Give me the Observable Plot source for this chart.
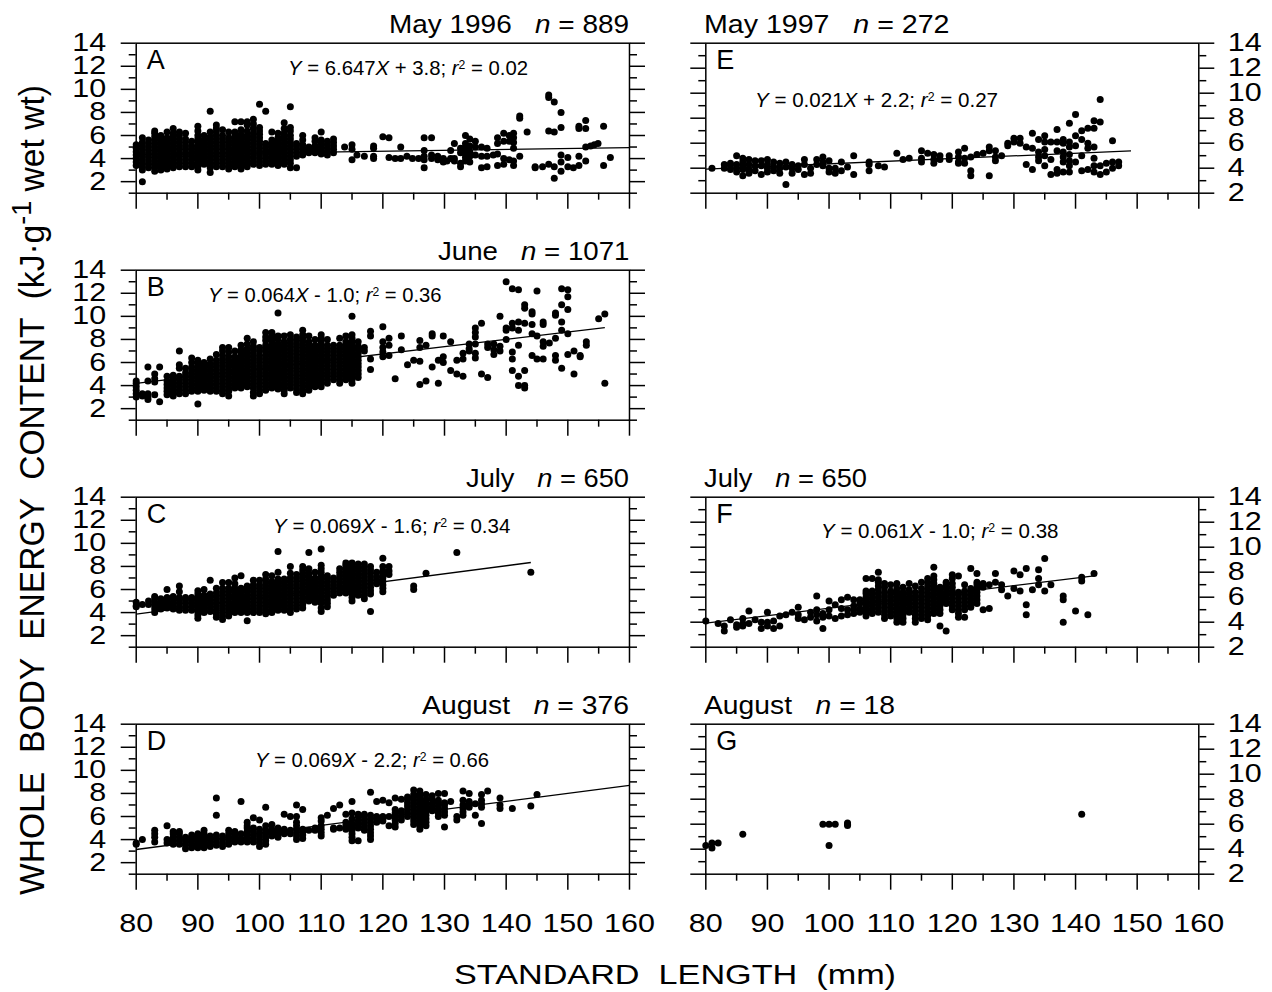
<!DOCTYPE html>
<html><head><meta charset="utf-8">
<script src="https://cdn.jsdelivr.net/npm/d3@7"></script>
<script src="https://cdn.jsdelivr.net/npm/@observablehq/plot@0.6"></script>
<style>
body{margin:0;background:#fff;}
#fig{position:relative;width:1272px;height:992px;overflow:hidden;font-family:"Liberation Sans",Arial,sans-serif;color:#000;background:#fff;}
.ov{position:absolute;white-space:pre;line-height:1;color:#000;}
.panel{position:absolute;}
</style></head><body><div id="fig"></div><script>
// ---------------- DATA ----------------
const panelLetters = ["A","B","C","D","E","F","G"];
const panelMonths = ["May 1996","June","July","August","May 1997","July","August"];
const panelN = [889,1071,650,376,272,650,18];
const eqSlope = ["6.647","0.064","0.069","0.069","0.021","0.061",null];
const eqIntercept = ["+ 3.8","- 1.0","- 1.6","- 2.2","+ 2.2","- 1.0",null];
const eqR2 = ["0.02","0.36","0.34","0.66","0.27","0.38",null];

const majorX = [80,90,100,110,120,130,140,150,160];
const minorX = [85,95,105,115,125,135,145,155];
const majorY = [2,4,6,8,10,12,14];
const minorYLeft = [1,3,5,7,9,11,13];
const minorYRight = [3,5,7,9,11,13];

// regression lines [[x1,y1],[x2,y2]]
const lineA = [[80,4.33],[160,4.95]];
const lineB = [[80,4.2],[156,9.03]];
const lineC = [[80,3.87],[144,8.34]];
const lineD = [[80,3.14],[160,8.7]];
const lineE = [[80,3.92],[149,5.39]];
const lineF = [[80,3.92],[143,7.71]];

// points: [standard length, [energy values]]
const panelA = [
[80,[3.4,3.7,4.0,4.3,4.6,4.9,5.2]],
[81,[2.0,3.0,3.3,3.6,3.9,4.2,4.5,4.8,5.1,5.4,5.8]],
[82,[3.2,3.5,3.8,4.1,4.4,4.7,5.0,5.3,5.6]],
[83,[2.9,3.2,3.5,3.8,4.1,4.4,4.7,5.0,5.3,5.6,5.9,6.2,6.4]],
[84,[3.0,3.3,3.6,3.9,4.2,4.5,4.8,5.1,5.4,5.7,6.0]],
[85,[3.1,3.4,3.7,4.0,4.3,4.6,4.9,5.2,5.5,5.8,6.3]],
[86,[3.2,3.5,3.8,4.1,4.4,4.7,5.0,5.3,5.6,5.9,6.2,6.6]],
[87,[3.3,3.6,3.9,4.2,4.5,4.8,5.1,5.4,5.7,6.0,6.3]],
[88,[3.3,3.6,3.9,4.2,4.5,4.8,5.1,5.4,5.7,6.2]],
[89,[3.3,3.6,3.9,4.2,4.5,4.8,5.1,5.5]],
[90,[3.0,3.3,3.6,3.9,4.2,4.5,4.8,5.1,5.4,5.7,6.0,6.4,6.8]],
[91,[3.5,3.8,4.1,4.4,4.7,5.0,5.3,5.6,6.0]],
[92,[2.8,3.2,3.5,3.8,4.1,4.4,4.7,5.0,5.3,5.6,5.9,6.3,8.1]],
[93,[3.3,3.6,3.9,4.2,4.5,4.8,5.1,5.4,5.7,6.0,6.3,6.6,6.9]],
[94,[3.3,3.6,3.9,4.2,4.5,4.8,5.1,5.4,5.7,6.0,6.5]],
[95,[3.1,3.4,3.7,4.0,4.3,4.6,4.9,5.2,5.5,5.8,6.3]],
[96,[3.3,3.6,3.9,4.2,4.5,4.8,5.1,5.4,5.7,6.0,6.3,7.2]],
[97,[3.1,3.4,3.7,4.0,4.3,4.6,4.9,5.2,5.5,5.8,6.1,6.5,7.2]],
[98,[3.3,3.6,3.9,4.2,4.5,4.8,5.1,5.4,5.7,6.0,6.4,6.9,7.2]],
[99,[3.5,3.8,4.1,4.4,4.7,5.0,5.3,5.6,5.9,6.2,6.6,7.0,7.4]],
[100,[3.4,3.7,4.0,4.3,4.6,4.9,5.2,5.5,5.8,6.1,6.4,6.7,8.7]],
[101,[3.5,3.8,4.1,4.4,4.7,5.0,5.3,8.1]],
[102,[3.5,3.8,4.1,4.4,4.7,5.0,5.3,5.6,6.3]],
[103,[3.4,3.7,4.0,4.3,4.6,4.9,5.2,5.5,5.8,6.2]],
[104,[3.5,3.8,4.1,4.4,4.7,5.0,5.3,5.6,5.9,6.2,6.6,7.1]],
[105,[3.2,3.6,3.9,4.2,4.5,4.8,5.1,5.4,5.7,6.0,6.4,6.7,8.5]],
[106,[3.2,4.2,4.5,4.8,5.1,5.3]],
[107,[4.3,4.6,4.9,5.2,5.6,6.0]],
[108,[4.5,4.8,5.0]],
[109,[4.5,4.8,5.1,5.5,5.8]],
[110,[4.4,4.7,5.0,5.3,5.6,6.3]],
[111,[4.3,4.6,4.9,5.2,5.5]],
[112,[4.5,4.8,5.1,5.4,5.7]],
[113.8,[5.0]],
[115,[3.9,4.8,5.2]],
[115.8,[4.3]],
[117,[4.2]],
[118.5,[4.0,4.2,4.9,5.1]],
[120,[5.9]],
[121,[4.1,5.8]],
[122,[4.0]],
[122.9,[4.0,5.0]],
[123.9,[4.2]],
[124.8,[4.0]],
[125.8,[4.0]],
[126.7,[3.2,3.9,4.2,4.7,5.8]],
[127.9,[4.0,4.3,5.8]],
[128.9,[3.9,4.2]],
[129.8,[3.7,4.0]],
[130.4,[3.8]],
[131,[4.0,4.7]],
[131.6,[3.8,4.0,5.3]],
[132.6,[3.3,3.6,4.5,4.9]],
[133.4,[3.8,4.1,4.4,4.7,5.0,5.3,6.0]],
[134.1,[3.7,4.2,4.6,5.1,5.7]],
[135,[4.3,5.0,5.5]],
[136,[3.2,4.2,5.0]],
[136.9,[3.3,4.2,4.9]],
[137.9,[4.3]],
[138.6,[3.4,4.4,5.3,5.8]],
[139.6,[3.5,4.0,5.5,6.2]],
[140.5,[3.9,5.5,6.0]],
[141.2,[3.4,3.8,4.9,5.4,5.8,6.2]],
[142.2,[4.2,7.5,7.7]],
[143.4,[6.3]],
[144.7,[3.2,3.3]],
[145.9,[3.3]],
[146.9,[3.5,6.4,9.3,9.5]],
[147.8,[2.3,3.3,6.3,8.9]],
[148.9,[2.9,3.7,4.3,6.7,8.0]],
[150,[3.3,4.1]],
[150.9,[3.2]],
[151.8,[3.4,4.2,6.6,6.8]],
[152.9,[3.8,5.0,6.6,7.3]],
[153.7,[5.1]],
[154.3,[5.2]],
[154.9,[5.3]],
[155.8,[3.4,6.8]],
[156.9,[4.1]]
];

const panelB = [
[80,[3.0,3.3,3.6,3.9,4.2,4.4]],
[81,[3.1,3.3]],
[81.9,[2.8,3.0,3.3,4.4,5.6]],
[83,[3.2,4.3,4.6,5.0]],
[83.8,[2.6,5.6]],
[85,[3.2,3.5,3.8,4.1,4.4,4.8]],
[86,[3.1,3.4,3.7,4.0,4.3,4.6,4.9]],
[87,[3.3,3.6,3.9,4.2,4.5,4.8,5.5,5.8,7.0]],
[88,[3.3,3.6,3.9,4.2,4.5,4.8,5.1,5.5]],
[89,[3.5,3.8,4.1,4.4,4.7,5.0,5.3,5.6,6.0,6.4]],
[90,[2.4,3.5,3.8,4.1,4.4,4.7,5.0,5.3,5.6,5.9,6.2]],
[91,[3.6,3.9,4.2,4.5,4.8,5.1,5.4,5.7,6.0]],
[92,[3.5,3.8,4.1,4.4,4.7,5.0,5.3,5.6,5.9,6.3]],
[93,[3.5,3.8,4.1,4.4,4.7,5.0,5.3,5.6,5.9,6.2,6.7]],
[94,[3.3,3.6,3.9,4.2,4.5,4.8,5.1,5.4,5.7,6.0,6.3,6.6,7.0,7.3]],
[95,[3.1,3.5,3.8,4.1,4.4,4.7,5.0,5.3,5.6,5.9,6.2,6.5,6.9,7.3]],
[96,[3.8,4.1,4.4,4.7,5.0,5.3,5.6,5.9,6.2,6.5,7.0]],
[97,[3.8,4.1,4.4,4.7,5.0,5.3,5.6,5.9,6.2,6.5,6.8,7.1,7.5]],
[98,[3.9,4.2,4.5,4.8,5.1,5.4,5.7,6.0,6.3,6.6,6.9,7.2,7.6,8.1]],
[99,[3.1,3.4,3.8,4.1,4.4,4.7,5.0,5.3,5.6,5.9,6.2,6.5,6.8,7.1,7.4,7.8]],
[100,[3.3,3.6,3.9,4.2,4.5,4.8,5.1,5.4,5.7,6.0,6.3,6.6,7.0,7.3]],
[101,[3.6,3.9,4.2,4.5,4.8,5.1,5.4,5.7,6.0,6.3,6.6,6.9,7.2,7.5,7.9,8.2,8.6]],
[102,[3.8,4.1,4.4,4.7,5.0,5.3,5.6,5.9,6.2,6.5,6.8,7.1,7.4,7.7,8.0,8.3,8.6]],
[103,[3.7,4.0,4.3,4.6,4.9,5.2,5.5,5.8,6.1,6.4,6.7,7.0,7.3,7.6,8.0,8.3,10.3]],
[104,[3.3,3.6,3.9,4.2,4.5,4.8,5.1,5.4,5.7,6.0,6.3,6.6,6.9,7.2,7.5,7.8,8.3]],
[105,[3.8,4.1,4.4,4.7,5.0,5.3,5.6,5.9,6.2,6.5,6.8,7.1,7.4,7.7,8.0,8.4]],
[106,[3.4,3.7,4.0,4.3,4.6,4.9,5.2,5.5,5.8,6.1,6.4,6.7,7.0,7.3,7.6,7.9,8.2]],
[107,[3.3,3.6,3.9,4.2,4.5,4.8,5.1,5.4,5.7,6.0,6.3,6.6,6.9,7.2,7.5,7.8,8.1,8.4,8.8]],
[108,[3.6,3.9,4.2,4.5,4.8,5.1,5.4,5.7,6.0,6.3,6.6,6.9,7.2,7.5,7.8,8.3]],
[109,[3.9,4.2,4.5,4.8,5.1,5.4,5.7,6.0,6.3,6.6,6.9,7.2,7.5,8.0]],
[110,[3.9,4.2,4.5,4.8,5.1,5.4,5.7,6.0,6.3,6.6,6.9,7.2,7.5,7.8,8.1,8.4]],
[111,[4.2,4.5,4.8,5.1,5.4,5.7,6.0,6.3,6.6,6.9,7.2,7.5,8.0]],
[112,[4.5,4.8,5.1,5.4,5.7,6.0,6.3,6.6,6.9,7.2,7.5]],
[113,[4.2,4.5,4.8,5.1,5.4,5.7,6.0,6.3,6.6,6.9,7.2,7.5,8.1]],
[114,[4.5,4.8,5.1,5.4,5.7,6.0,6.3,6.6,6.9,7.2,7.5,7.8,8.3]],
[115,[4.2,4.5,4.8,5.1,5.4,5.7,6.0,6.3,6.6,6.9,7.2,7.5,7.8,8.1,8.4,10.0]],
[116,[4.7,5.0,5.3,5.6,5.9,6.2,6.5,6.8,7.1,7.4,7.8]],
[117,[7.0,7.3]],
[118,[5.4,6.3,8.3,8.7]],
[120,[6.5,6.9,7.3,7.8,9.1]],
[121,[6.6,7.5,8.1]],
[122,[4.6]],
[123,[7.1,8.3]],
[124,[5.8]],
[125,[6.2]],
[126,[4.1,6.1,7.3,7.9]],
[127,[4.4,7.5]],
[128,[5.6,8.3,8.5]],
[129,[4.2,6.2]],
[129.8,[6.0,6.5,8.3]],
[131,[5.3,7.8]],
[132,[5.0,6.2]],
[133,[4.8,6.3,6.8]],
[134,[7.0,7.2,7.6]],
[135,[6.4,6.8,7.6,8.2,8.6,9.0]],
[136,[5.0,9.4]],
[137,[4.7,7.3,7.6]],
[138,[6.7,7.1,7.6]],
[139,[7.0,7.4,10.0]],
[140,[8.0,8.8,9.0,13.0]],
[141,[5.3,6.3,6.9,9.0,9.4,12.4]],
[142,[4.0,4.8,7.5,8.8,9.5,12.3]],
[143,[3.8,4.0,5.3,9.4,10.7,11.0]],
[144.2,[6.6,8.5,9.3,10.2,10.4]],
[145,[6.3,8.3,12.2]],
[146,[6.3,7.4,7.8,9.3,9.5]],
[147,[7.7]],
[148,[6.2,6.6,8.1,10.1,10.3]],
[149,[5.5,8.8,9.5,11.0,12.4]],
[150,[6.7,8.5,10.6,11.7,12.3]],
[151,[5.0,7.0]],
[152,[6.5,6.6]],
[153,[7.5,7.8]],
[155,[9.8]],
[156,[4.2,10.2]]
];

const panelC = [
[80,[4.5,4.6,4.9]],
[81,[4.7]],
[82,[4.7,5.0]],
[83,[4.0,4.3,4.6,4.9,5.2,5.4]],
[84,[4.3,4.6,4.9,5.2]],
[85,[4.4,4.7,5.0,5.3,6.0]],
[86,[4.3,4.6,4.9,5.2,5.4]],
[87,[4.2,4.5,4.8,5.1,5.3,5.8,6.3]],
[88,[4.2,4.5,4.8,5.1,5.3]],
[89,[4.2,4.5,4.8,5.1,5.3]],
[90,[3.5,3.8,4.1,4.4,4.7,5.0,5.3,5.6,5.9]],
[91,[4.0,4.3,4.6,4.9,5.2,5.5,6.0]],
[92,[4.1,4.4,4.7,5.0,5.3,5.6,6.8]],
[93,[3.6,3.9,4.2,4.5,4.8,5.1,5.4,5.7,6.1]],
[94,[3.4,3.7,4.0,4.3,4.6,4.9,5.2,5.5,5.8,6.1,6.6]],
[95,[3.7,4.0,4.3,4.6,4.9,5.2,5.5,5.8,6.1,6.6]],
[96,[4.0,4.3,4.6,4.9,5.2,5.5,5.8,6.1,6.5,7.0]],
[97,[4.0,4.3,4.6,4.9,5.2,5.5,5.8,6.1,7.2]],
[98,[3.3,4.0,4.3,4.6,4.9,5.2,5.5,5.8,6.0,6.3]],
[99,[4.0,4.3,4.6,4.9,5.2,5.5,5.8,6.1,6.4,6.8]],
[100,[4.0,4.3,4.6,4.9,5.2,5.5,5.8,6.1,6.4,6.8]],
[101,[3.9,4.2,4.5,4.8,5.1,5.4,5.7,6.0,6.3,6.6,6.9,7.3]],
[102,[4.0,4.3,4.6,4.9,5.2,5.5,5.8,6.1,6.4,6.7,7.2]],
[103,[4.2,4.5,4.8,5.1,5.4,5.7,6.0,6.3,6.6,6.9,7.5,9.3]],
[104,[4.2,4.5,4.8,5.1,5.4,5.7,6.0,6.3,6.6,6.9]],
[105,[4.0,4.3,4.6,4.9,5.2,5.5,5.8,6.1,6.4,6.7,7.0,7.4,8.0]],
[106,[4.3,4.6,4.9,5.2,5.5,5.8,6.1,6.4,6.7,7.0,7.3]],
[107,[4.4,4.7,5.0,5.3,5.6,5.9,6.2,6.5,6.8,7.1,7.4,7.7,8.0]],
[108,[5.0,5.3,5.6,5.9,6.2,6.5,6.8,7.1,7.4,7.8,9.2]],
[109,[4.9,5.2,5.5,5.8,6.1,6.4,6.7,7.0,7.5]],
[110,[4.1,4.4,4.8,5.1,5.4,5.7,6.0,6.3,6.6,6.9,7.2,7.5,7.8,8.1,9.5]],
[111,[4.5,4.8,5.1,5.4,5.7,6.0,6.3,6.6,6.9,7.2]],
[112,[5.5,5.8,6.1,6.4,6.7,7.0]],
[113,[5.7,6.0,6.3,6.6,6.9,7.2,7.5,7.8]],
[114,[5.7,6.0,6.3,6.6,6.9,7.2,7.5,7.8,8.1,8.3]],
[115,[5.0,5.3,5.6,5.9,6.2,6.5,6.8,7.1,7.4,7.7,8.0,8.3]],
[116,[5.5,5.8,6.1,6.4,6.7,7.0,7.3,7.6,7.9,8.2]],
[117,[5.2,5.5,5.8,6.1,6.4,6.7,7.0,7.3,7.6,7.9,8.2]],
[118,[4.1,5.6,5.9,6.2,6.5,6.8,7.1,7.4,7.7,8.0]],
[119,[6.5,6.8,7.1,7.5]],
[120,[5.8,6.1,6.4,6.7,7.0,7.3,7.6,8.0,8.7]],
[121,[7.3,7.6,8.0]],
[125,[6.0,6.3]],
[127,[7.4]],
[132,[9.2]],
[144,[7.5]]
];

const panelD = [
[80,[3.6,3.7]],
[81,[4.0]],
[83,[3.8,4.2,4.5,4.8]],
[85,[3.7,4.0,5.2]],
[86,[3.6,3.9,4.2,4.5,4.7]],
[87,[3.6,3.9,4.2,4.5,4.7]],
[88,[3.2,3.5,3.8,4.0,4.2]],
[89,[3.3,3.6,3.9,4.2,4.4]],
[90,[3.3,3.6,3.9,4.2,4.5]],
[91,[3.3,3.6,3.9,4.2,4.5,4.8]],
[92,[3.4,3.7,4.0,4.3]],
[93,[3.5,3.8,4.1,4.4,6.1,7.6]],
[94,[3.4,3.7,4.0,4.3]],
[95,[3.6,3.9,4.2,4.5,4.8]],
[96,[3.8,4.1,4.4,4.7]],
[97,[3.8,4.1,4.5,7.3]],
[98,[3.8,4.1,4.4,4.7,5.0,5.2,5.5]],
[99,[3.8,4.1,4.4,4.7,5.0,5.9]],
[100,[3.4,3.7,4.0,4.3,4.6,4.9,5.7]],
[101,[3.6,3.9,4.2,4.5,4.8,5.2,6.8]],
[102,[4.3,4.6,4.9,5.3]],
[103,[4.2,4.5,4.8,5.0]],
[104,[4.5,4.7,4.9,6.2]],
[105,[4.5,4.8,6.0]],
[106,[4.0,4.3,4.6,4.9,5.2,5.5,6.0,7.0]],
[107,[4.1,4.4,4.7,4.9,6.6]],
[108,[4.8]],
[109,[4.8,5.0]],
[110,[4.3,4.6,4.9,5.2,5.6,5.9]],
[111,[6.1]],
[112,[4.9,5.0,6.7]],
[113,[5.0,7.0]],
[114,[4.9,5.2,5.5,6.2]],
[115,[3.9,4.2,4.5,4.8,5.1,5.4,5.8,6.3,7.3]],
[116,[3.9,5.0,5.3,5.6,6.0,6.2]],
[117,[4.8,5.1,5.4,5.7,6.0,6.2]],
[118,[4.0,4.3,4.6,4.9,5.2,5.5,5.8,6.1,8.1]],
[119,[5.5,5.8,6.0,7.3]],
[120,[5.6,5.8,6.0,7.4]],
[121,[5.2,6.0,7.2]],
[122,[5.1,5.4,5.7,6.0,6.3,6.6,7.6]],
[123,[5.7,6.0,6.3,6.5,7.5]],
[124,[6.0,6.3,6.6,6.9,7.2,7.5,7.7]],
[125,[5.3,5.6,5.9,6.2,6.5,6.8,7.1,7.4,7.7,7.9,8.3]],
[126,[4.9,5.2,5.5,5.8,6.1,6.4,6.7,7.0,7.3,7.6,7.9,8.2]],
[127,[5.2,5.5,5.8,6.1,6.4,6.7,7.0,7.3,7.5,7.9]],
[128,[6.5,6.8,7.1,7.5,7.8]],
[129,[6.0,6.3,6.6,6.9,7.2,7.4,8.0]],
[130,[5.1,6.1,6.4,6.7,7.0,7.2,8.0]],
[131,[7.3]],
[132,[5.7,6.0]],
[133,[6.1,6.4,6.7,7.0,7.4,8.2]],
[134,[6.8,7.1,7.3,8.0]],
[135,[6.1,7.1]],
[136,[5.4,6.8,7.1,7.4,7.9]],
[137,[8.2]],
[139,[6.7,7.0,7.6]],
[141,[6.7]],
[144,[6.9]],
[145,[7.9]]
];

const panelE = [
[81,[4.0]],
[83,[4.0,4.3]],
[84,[3.9,4.2,4.4]],
[85,[3.7,4.0,4.3,5.0]],
[86,[3.4,3.9,4.2,4.5,4.8]],
[87,[3.6,3.9,4.3,4.7]],
[88,[3.8,4.2,4.6]],
[89,[3.5,4.2,4.6]],
[90,[3.7,4.0,4.3,4.7]],
[91,[3.8,4.1,4.5]],
[92,[3.6,4.0,4.4]],
[93,[2.7,4.1,4.5]],
[94,[3.6,4.0,4.3]],
[95,[3.9,4.2]],
[96,[3.5,4.3,4.7]],
[97,[3.6,4.0]],
[98,[4.3,4.7]],
[99,[4.2,4.5,4.9]],
[100,[3.7,4.0,4.6]],
[101,[3.6,4.0]],
[102,[3.8,4.5]],
[103,[4.1]],
[104,[3.5,5.0]],
[106.5,[3.8,4.3,4.5]],
[108,[4.2]],
[109,[4.1]],
[111,[5.2]],
[112,[4.7]],
[113,[4.8]],
[115,[4.5,4.8,5.4]],
[116,[5.2]],
[117,[4.4,4.7,5.1]],
[118,[4.7,5.0]],
[119.5,[4.7,5.0]],
[121,[4.4,4.5,4.9,5.3]],
[122,[4.4,4.8,5.6]],
[123,[3.4,3.8,4.9]],
[124,[5.1]],
[125,[5.2]],
[126,[3.4,5.4,5.7]],
[127,[4.6,4.9,5.4]],
[128,[5.0]],
[129,[5.8,6.0]],
[130,[6.1,6.4]],
[131,[6.0,6.4]],
[132,[4.3,5.7]],
[133,[3.9,5.6,6.8]],
[134,[4.6,4.9,5.3,6.3]],
[135,[4.2,5.0,5.5,6.1,6.6]],
[136,[3.5,4.7,6.1]],
[137,[3.6,3.9,5.4,6.1,7.1]],
[138,[3.7,4.5,4.9,5.3,6.0,6.3]],
[139,[3.7,4.2,4.6,5.1,5.7,6.1,7.6]],
[140,[4.5,5.8,6.6,8.3]],
[141,[3.8,5.0,6.3,7.0]],
[142,[3.9,5.6,6.0,7.2]],
[143,[3.7,4.2,4.8,5.7,7.2,7.8]],
[144,[3.5,4.2,7.7,9.5]],
[145,[3.7,4.4]],
[146,[4.0,4.5,6.2]],
[147,[4.2,4.5]]
];

const panelF = [
[80,[4.1]],[82,[3.9]],[83,[3.3,3.7]],[84,[4.2]],[85,[3.6,3.8]],
[86,[3.7,3.9,4.3]],[87,[3.9,4.9]],[88,[4.2]],[89,[3.5,4.0]],
[90,[3.7,4.0,4.8]],[91,[3.5,4.1]],[92,[3.7,4.5]],[93,[4.6]],[94,[4.8]],
[95,[4.3,4.6,5.2]],[96,[4.2]],[97,[4.4,4.8]],[98,[4.1,4.6,5.0,6.1]],
[99,[3.5,4.4,4.7]],[100,[4.5,5.0,5.7]],[101,[4.3,5.4]],[102,[4.5,5.1,5.8]],
[103,[4.6,5.0,6.0]],
[104,[4.7,5.0,5.3,5.8]],
[105,[4.8,5.1,5.5,5.8]],
[106,[4.5,4.8,5.1,5.4,5.7,6.0,6.3,6.5,7.5]],
[107,[4.7,5.0,5.3,5.6,5.9,6.2,6.5,7.5]],
[108,[4.8,5.1,5.4,5.7,6.0,6.3,6.6,6.9,7.2,7.4,8.0]],
[109,[4.3,4.6,4.9,5.2,5.5,5.8,6.1,6.4,6.8,7.1]],
[110,[4.5,4.8,5.1,5.4,5.7,6.0,6.3,6.5,7.0]],
[111,[4.0,4.3,4.6,4.9,5.2,5.5,5.8,6.1,6.4,6.7,7.1]],
[112,[4.0,4.3,4.6,4.9,5.2,5.5,5.8,6.1,6.4,6.8]],
[113,[4.8,5.1,5.4,5.7,6.0,6.3,6.6,7.1]],
[114,[4.0,4.3,4.6,4.9,5.2,5.5,5.8,6.1,6.4,6.9]],
[115,[4.3,4.6,4.9,5.2,5.5,5.8,6.1,6.4,6.7,7.2]],
[116,[4.2,4.5,4.8,5.1,5.4,5.7,6.0,6.3,6.6,6.9,7.2,7.5]],
[117,[4.7,5.0,5.3,5.6,5.9,6.2,6.5,6.8,7.1,7.4,7.7,8.4]],
[118,[3.7,4.7,5.0,5.3,5.6,5.9,6.2,6.5,6.8]],
[119,[3.3,5.5,5.8,6.1,6.4,6.7,7.0,7.2]],
[120,[5.0,5.3,5.6,5.9,6.2,6.5,6.8,7.1,7.5,7.8]],
[121,[4.4,4.7,5.0,5.3,5.6,5.9,6.2,6.4,7.7]],
[122,[4.4,5.0,5.3,5.6,5.9,6.2,6.5,7.0]],
[123,[5.2,5.5,5.8,6.1,6.4,6.7,8.3]],
[124,[5.5,5.8,6.1,6.4,6.7,7.0,7.2,7.9]],
[125,[5.0,6.8,7.1]],
[126,[5.1,7.0]],
[127,[7.2,7.9]],
[128,[6.6,7.0]],
[129,[6.1]],
[130,[6.7,8.1]],
[131,[6.5,7.8]],
[132,[4.6,5.4,8.3]],
[133,[6.6]],
[134,[7.0,7.5,8.2]],
[135,[6.5,9.1]],
[136,[7.0]],
[138,[4.0,5.8,6.1]],
[140,[4.9]],
[141,[7.3,7.6]],
[142,[4.6]],
[143,[7.9]]
];

const panelG = [
[80,[4.3]],[81,[4.1,4.5]],[82,[4.5]],[86,[5.2]],
[99,[6.0]],[100,[4.3,6.0]],[101,[6.0]],[103,[5.9,6.0,6.1]],[141,[6.8]]
];

// ---------------- LAYOUT ----------------
const FONT = '"Liberation Sans", Arial, sans-serif';
const LEFT_FRAME = [135.7, 629];
const RIGHT_FRAME = [705.3, 1198.3];
const ROW_TOP = [42.7, 269.6, 496.5, 723.3];
const FRAME_H = 150;
const TICK_STRETCH = 1.22;
const panelPos = [[0,0],[0,1],[0,2],[0,3],[1,0],[1,2],[1,3]]; // [col,row]
const panelData = [panelA,panelB,panelC,panelD,panelE,panelF,panelG];
const panelLines = [lineA,lineB,lineC,lineD,lineE,lineF,null];
const titleWidth = [240,191.5,163,207,245.5,163,191];
const eqLeft = [288,207.5,272.6,255,754.7,821];
const eqWidth = [240,233.5,237.4,234,243,237.5];
const eqBase = [75,301.7,533.3,766.7,106.7,538.3];

const fig = document.getElementById("fig");

// horizontal stretch of tick labels about each label's own anchor
function stretchText(svg, s) {
  svg.querySelectorAll("text").forEach(t => {
    const tr = t.getAttribute("transform") || "";
    const xa = t.getAttribute("x");
    const x = (xa && !/em/.test(xa) && isFinite(parseFloat(xa))) ? parseFloat(xa) : 0;
    t.setAttribute("transform", `${tr} translate(${x},0) scale(${s},1) translate(${-x},0)`.trim());
  });
}

function makePanel(i) {
  const [col,row] = panelPos[i];
  const left = col === 0;
  const svgLeft = left ? 0 : 660;
  const svgTop = ROW_TOP[row] - 42.7;
  const fr = left ? LEFT_FRAME : RIGHT_FRAME;
  const bottomRow = row === 3;
  const height = bottomRow ? 992 - svgTop : 226.9;
  const mt = 42.7, mb = height - mt - FRAME_H;
  const width = left ? 680 : 612;
  const ml = fr[0] - svgLeft, mr = width - (fr[1] - svgLeft);
  const pts = panelData[i].flatMap(([x, ys]) => ys.map(y => ({x, y})));
  const lab = d => String(d), none = () => "";
  const common = {label: null, stroke: "black", strokeWidth: 1.5, fontSize: 25};
  const marks = [
    Plot.axisY({...common, ticks: majorY, anchor: "left", tickSize: 15, tickPadding: 15, tickFormat: left ? lab : none}),
    Plot.axisY({...common, ticks: left ? minorYLeft : minorYRight, anchor: "left", tickSize: 7, tickFormat: none}),
    Plot.axisY({...common, ticks: majorY, anchor: "right", tickSize: 15, tickPadding: 14, tickFormat: left ? none : lab}),
    Plot.axisY({...common, ticks: left ? minorYLeft : minorYRight, anchor: "right", tickSize: 7, tickFormat: none}),
    Plot.axisX({...common, ticks: majorX, anchor: "bottom", tickSize: 16, tickPadding: 24, tickFormat: bottomRow ? lab : none}),
    Plot.axisX({...common, ticks: minorX, anchor: "bottom", tickSize: 7, tickFormat: none}),
    Plot.frame({stroke: "black", strokeWidth: 1.5}),
    Plot.dot(pts, {x: "x", y: "y", r: 3.5, fill: "black", stroke: "none"})
  ];
  if (panelLines[i]) {
    marks.push(Plot.link([panelLines[i]], {x1: d => d[0][0], y1: d => d[0][1], x2: d => d[1][0], y2: d => d[1][1], stroke: "black", strokeWidth: 1.3}));
  }
  const svg = Plot.plot({
    width, height, marginLeft: ml, marginRight: mr, marginTop: mt, marginBottom: mb,
    x: {domain: [80,160], label: null},
    y: {domain: left ? [1,14] : [2,14], label: null},
    style: {background: "transparent", overflow: "visible", fontFamily: FONT, color: "black"},
    marks
  });
  stretchText(svg, TICK_STRETCH);
  const wrap = document.createElement("div");
  wrap.className = "panel";
  wrap.style.left = svgLeft + "px";
  wrap.style.top = svgTop + "px";
  wrap.appendChild(svg);
  fig.appendChild(wrap);
}

function addText(html, left, baseline, font, width) {
  const d = document.createElement("div");
  d.className = "ov";
  d.style.fontSize = font + "px";
  d.innerHTML = html;
  fig.appendChild(d);
  const w = d.getBoundingClientRect().width;
  const sx = width ? width / w : 1;
  d.style.left = left + "px";
  d.style.top = (baseline - 0.8465 * font) + "px";
  d.style.transformOrigin = "0 0";
  d.style.transform = `scaleX(${sx})`;
}

for (let i = 0; i < 7; i++) {
  makePanel(i);
  const [col,row] = panelPos[i];
  const fr = col === 0 ? LEFT_FRAME : RIGHT_FRAME;
  const top = ROW_TOP[row];
  const tHtml = `${panelMonths[i]}   <i>n</i> = ${panelN[i]}`;
  const tl = col === 0 ? fr[1] - titleWidth[i] : fr[0] - 1;
  addText(tHtml, tl, top - 9.5, 26, titleWidth[i]);
  addText(panelLetters[i], fr[0] + 11, top + 27.5, 27, null);
  if (eqSlope[i]) {
    const eHtml = `<i>Y</i> = ${eqSlope[i]}<i>X</i> ${eqIntercept[i]}; <i>r</i><span style="position:relative;top:-0.5em;font-size:0.6em">2</span> = ${eqR2[i]}`;
    addText(eHtml, eqLeft[i], eqBase[i], 20, eqWidth[i]);
  }
}

// axis titles
addText("STANDARD  LENGTH  (mm)", 454, 985, 28, 442);
(function(){
  const d = document.createElement("div");
  d.className = "ov";
  d.style.fontSize = "30px";
  d.innerHTML = 'WHOLE  BODY  ENERGY  CONTENT  (kJ·g<span style="position:relative;top:-0.45em;font-size:0.8em">-1</span> wet wt)';
  fig.appendChild(d);
  const r = d.getBoundingClientRect();
  d.style.left = (33 - r.width / 2) + "px";
  d.style.top = (490 - r.height / 2) + "px";
  d.style.transformOrigin = "50% 50%";
  d.style.transform = `rotate(-90deg) scale(${810 / r.width}, 1.15)`;
})();
</script></body></html>
